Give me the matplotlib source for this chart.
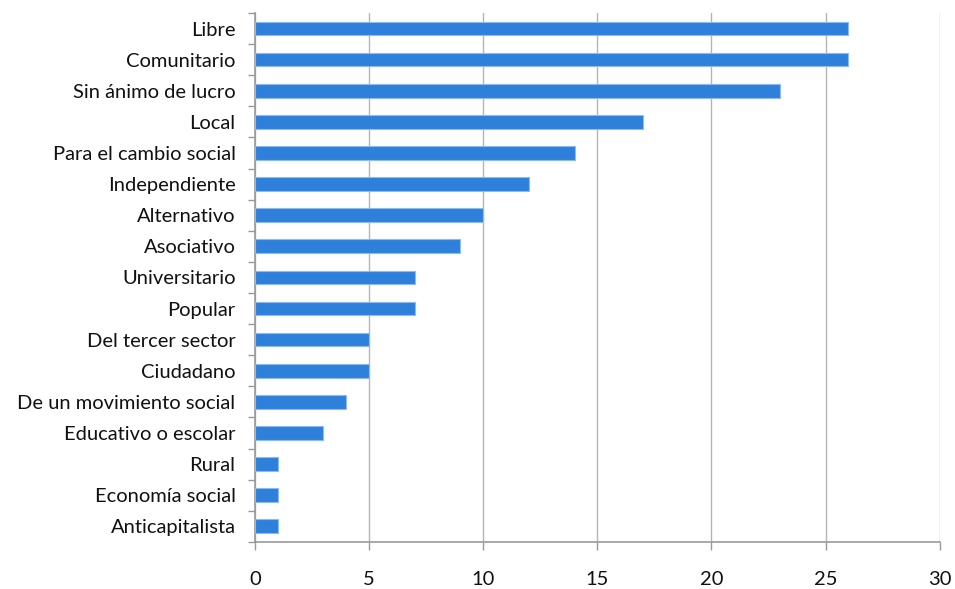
import numpy as np
import matplotlib
matplotlib.use("Agg")
from matplotlib import pyplot as plt

categorias = ["Libre", "Comunitario", "Sin ánimo de lucro", "Local",
              "Para el cambio social", "Independiente", "Alternativo",
              "Asociativo", "Universitario", "Popular", "Del tercer sector",
              "Ciudadano", "De un movimiento social", "Educativo o escolar",
              "Rural", "Economía social", "Anticapitalista"]
valores = [26, 26, 23, 17, 14, 12, 10, 9, 7, 7, 5, 5, 4, 3, 1, 1, 1]
xticks = [0, 5, 10, 15, 20, 25, 30]

plt.rcParams['font.family'] = ['Lato', 'DejaVu Sans']

fig = plt.figure(figsize=(9.55, 5.89), dpi=100)
ax = fig.add_axes([0.267, 0.080, 0.717, 0.898])

y = np.arange(len(categorias))
ax.barh(y, valores, height=0.44, color='#2F80DA', edgecolor='#8DBBEE',
        linewidth=0.8, zorder=3)

ax.set_ylim(len(categorias) - 0.5, -0.5)
ax.set_xlim(0, 30)
ax.set_yticks(y)
ax.set_yticklabels(categorias, fontsize=14.5, color='#111111')
ax.set_yticks(np.arange(-0.5, len(categorias)), minor=True)
ax.tick_params(axis='y', which='major', length=0, pad=14)
ax.tick_params(axis='y', which='minor', length=5, color='#999999', width=1)

ax.set_xticks(xticks)
ax.set_xticklabels([str(t) for t in xticks], fontsize=14.5, color='#111111')
ax.tick_params(axis='x', length=6, color='#999999', width=1, pad=15)

ax.grid(axis='x', color='#b4b4b4', linewidth=1, zorder=0)
for s in ['top', 'right']:
    ax.spines[s].set_visible(False)
for s in ['left', 'bottom']:
    ax.spines[s].set_color('#999999')
    ax.spines[s].set_linewidth(1.2)

fig.savefig("out.png", dpi=100)
